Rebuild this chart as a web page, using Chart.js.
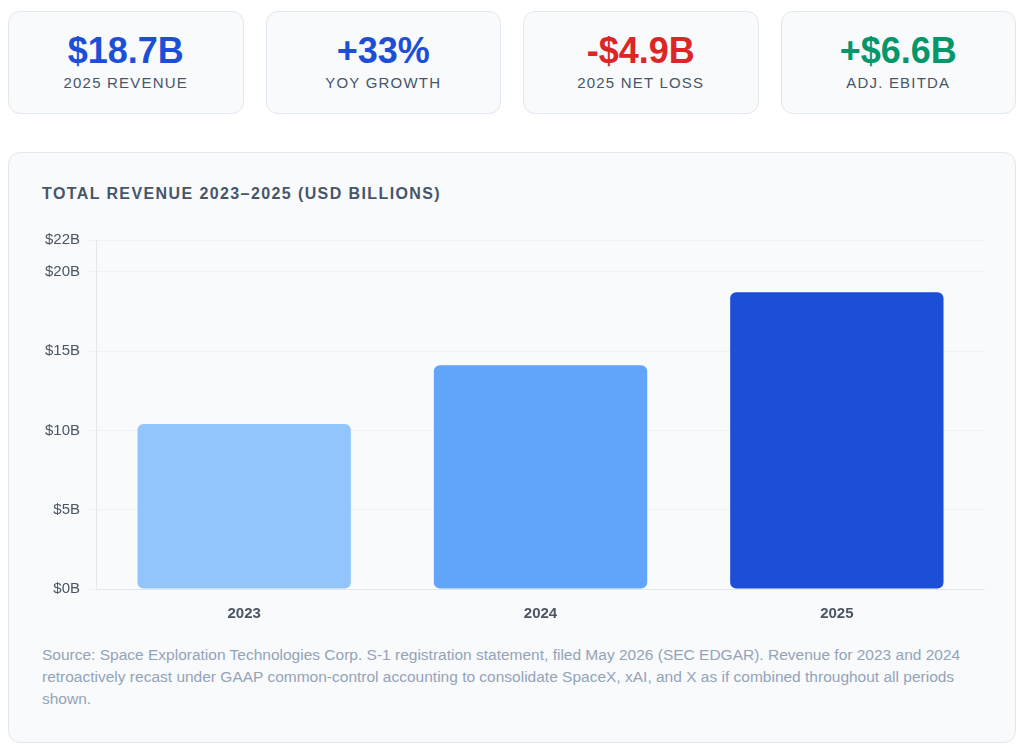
<!DOCTYPE html>
<html>
<head>
<meta charset="utf-8">
<script src="https://cdn.jsdelivr.net/npm/chart.js@4"></script>
<style>
  body { margin: 8px; background: #fff; font-family: "Liberation Sans", Arial, sans-serif; }
  .kpis { display: grid; grid-template-columns: repeat(4, 1fr); gap: 22px; margin-top: 3px; }
  .kpi { background: #f8fafc; border: 1px solid #e2e8f0; border-radius: 12px; height: 101px; text-align: center; }
  .kpi .v { font-size: 36px; font-weight: bold; margin-top: 19px; line-height: 40px; }
  .kpi .l { font-size: 15px; color: #475569; letter-spacing: 1.2px; margin-top: 3px; }
  .panel { margin-top: 38px; background: #f8fafc; border: 1px solid #e2e8f0; border-radius: 12px; padding: 30px 32px 33px 33px; height: 526px; }
  .panel h2 { margin: 0; font-size: 16px; font-weight: bold; color: #475569; letter-spacing: 1.4px; line-height: 22px; }
  .wrap { position: relative; height: 408px; margin: 18px -2px 0 -5px; }
  .src { color: #94a3b8; font-size: 15.5px; line-height: 22px; margin-top: 13px; }
</style>
</head>
<body>
<div class="kpis">
  <div class="kpi"><div class="v" style="color:#1d4ed8">$18.7B</div><div class="l">2025 REVENUE</div></div>
  <div class="kpi"><div class="v" style="color:#1d4ed8">+33%</div><div class="l">YOY GROWTH</div></div>
  <div class="kpi"><div class="v" style="color:#dc2626">-$4.9B</div><div class="l">2025 NET LOSS</div></div>
  <div class="kpi"><div class="v" style="color:#059669">+$6.6B</div><div class="l">ADJ. EBITDA</div></div>
</div>
<div class="panel">
  <h2>TOTAL REVENUE 2023–2025 (USD BILLIONS)</h2>
  <div class="wrap"><canvas id="revChart"></canvas></div>
  <div class="src">Source: Space Exploration Technologies Corp. S-1 registration statement, filed May 2026 (SEC EDGAR). Revenue for 2023 and 2024 retroactively recast under GAAP common-control accounting to consolidate SpaceX, xAI, and X as if combined throughout all periods shown.</div>
</div>
<script>
const years = ['2023', '2024', '2025'];
const revenue = [10.4, 14.1, 18.7];
const barColors = ['#93c5fd', '#60a5fa', '#1d4ed8'];
const yMax = 22;

Chart.defaults.font.family = '"Liberation Sans", Arial, sans-serif';

const ctx = document.getElementById('revChart').getContext('2d');
const revChart = new Chart(ctx, {
    type: 'bar',
    data: {
        labels: years,
        datasets: [{
            label: 'Revenue',
            data: revenue,
            backgroundColor: barColors,
            borderRadius: 6,
            borderSkipped: false
        }]
    },
    options: {
        maintainAspectRatio: false,
        animation: false,
        plugins: {
            legend: { display: false },
            tooltip: { enabled: false }
        },
        scales: {
            x: {
                grid: { display: false },
                border: { color: '#e5e7eb' },
                ticks: { color: '#4b5563', font: { size: 15, weight: 'bold' }, padding: 8 }
            },
            y: {
                beginAtZero: true,
                max: yMax,
                grid: { color: '#eef2f5' },
                border: { color: '#e5e7eb' },
                ticks: {
                    stepSize: 5,
                    color: '#4b5563',
                    font: { size: 15 },
                    padding: 8,
                    callback: v => '$' + v + 'B'
                }
            }
        }
    }
});
</script>
</body>
</html>
